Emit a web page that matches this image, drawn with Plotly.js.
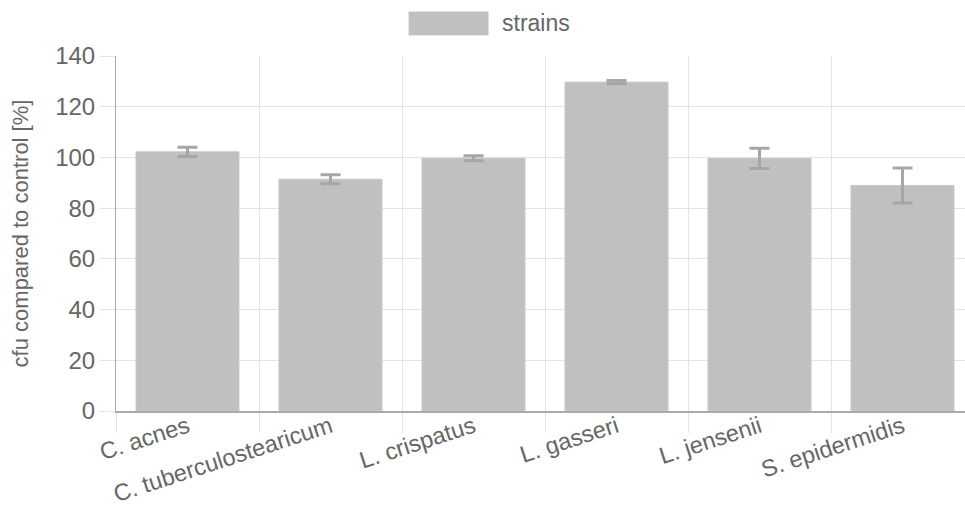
<!DOCTYPE html>
<html>
<head>
<meta charset="utf-8">
<script src="https://cdn.plot.ly/plotly-3.0.1.min.js"></script>
<style>html,body{margin:0;padding:0;background:#fff;}#chart{width:965px;height:509px;}</style>
</head>
<body>
<div id="chart"></div>
<script>
const categories = ["C. acnes", "C. tuberculostearicum", "L. crispatus", "L. gasseri", "L. jensenii", "S. epidermidis"];
const values = [102.2, 91.4, 99.7, 129.7, 99.6, 88.9];
const errors = [1.8, 1.8, 1.0, 0.6, 4.0, 6.9];
const seriesName = "strains";
const yTicks = [0, 20, 40, 60, 80, 100, 120, 140];

const FONT = "Liberation Sans, Arial, Helvetica, sans-serif";
const TXT = "#666666";

const trace = {
  type: "bar",
  x: categories,
  y: values,
  name: seriesName,
  width: 0.72,
  marker: {color: "#c0c0c0", line: {color: "#c6c6c6", width: 1}},
  error_y: {type: "data", array: errors, visible: true, color: "#a6a6a6", thickness: 3, width: 10},
  hoverinfo: "x+y"
};

const layout = {
  width: 965, height: 509,
  margin: {l: 116, r: 0, t: 56, b: 98, pad: 0},
  paper_bgcolor: "#ffffff", plot_bgcolor: "#ffffff",
  showlegend: false,
  font: {family: FONT, color: TXT, size: 23},
  bargap: 0,
  xaxis: {
    type: "category",
    range: [-0.5, 5.437],
    tickson: "boundaries",
    showgrid: true, gridcolor: "#e4e4e4", gridwidth: 1,
    ticks: "outside", ticklen: 20, tickcolor: "#e4e4e4", tickwidth: 1,
    tickangle: -18,
    ticklabelstandoff: -9,
    tickfont: {family: FONT, size: 23.5, color: TXT},
    showline: true, linecolor: "#aaaaaa", linewidth: 2,
    zeroline: false, automargin: false
  },
  yaxis: {
    range: [0, 140],
    tickvals: yTicks,
    ticktext: yTicks.map(String),
    showgrid: true, gridcolor: "#e4e4e4", gridwidth: 1,
    ticks: "outside", ticklen: 15, tickcolor: "#e4e4e4", tickwidth: 1,
    tickfont: {family: FONT, size: 24, color: TXT},
    showline: true, linecolor: "#aaaaaa", linewidth: 1,
    zeroline: false, automargin: false,
    title: {text: "cfu compared to control [%]", font: {family: FONT, size: 22, color: TXT}, standoff: 20}
  },
  shapes: [{
    type: "rect", xref: "paper", yref: "paper",
    x0: 0.3451, x1: 0.4382, y0: 1.0592, y1: 1.1239,
    fillcolor: "#c0c0c0", line: {color: "#c6c6c6", width: 1}
  }],
  annotations: [{
    xref: "paper", yref: "paper", x: 0.4523, y: 1.093,
    xanchor: "left", yanchor: "middle", showarrow: false,
    text: seriesName, font: {family: FONT, size: 23, color: TXT}
  }]
};

Plotly.newPlot("chart", [trace], layout, {displayModeBar: false, staticPlot: true});
</script>
</body>
</html>
